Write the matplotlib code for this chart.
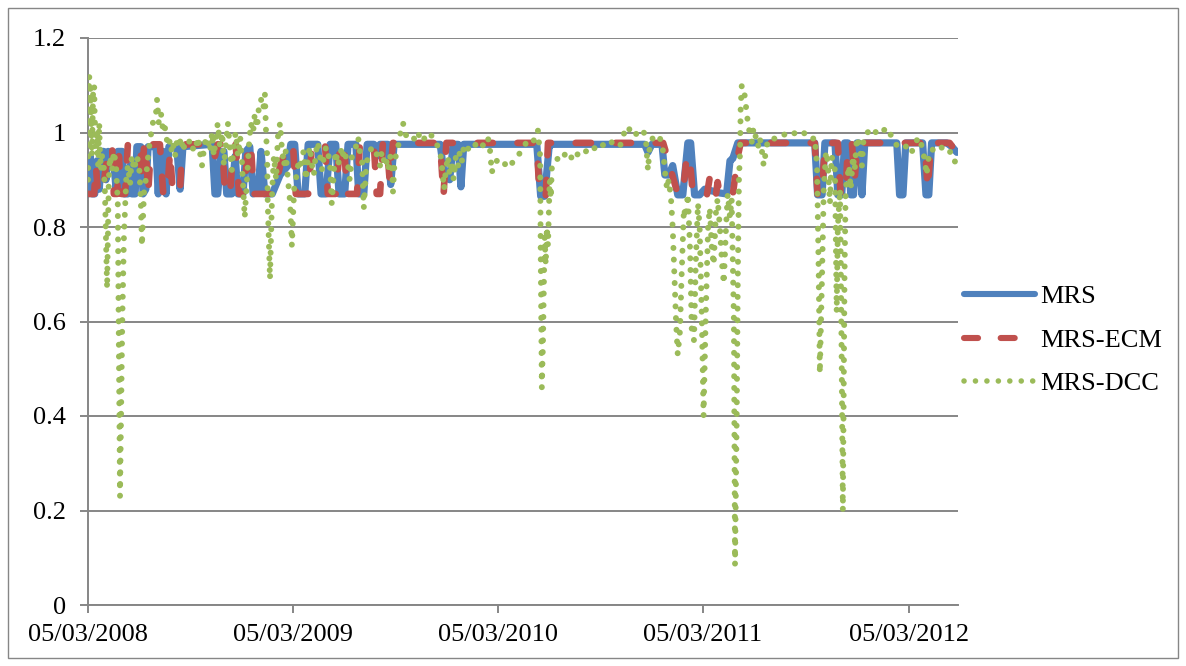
import matplotlib
matplotlib.use("Agg")
import matplotlib.pyplot as plt
import matplotlib.dates as mdates
import pandas as pd
from matplotlib.lines import Line2D
from matplotlib.patches import Rectangle

plt.rcParams['font.family'] = ['Liberation Serif', 'DejaVu Serif']

# ---------------- data ----------------
start_date = "2008-03-05"
end_day = 1549
tick_dates = ["2008-03-05", "2009-03-05", "2010-03-05", "2011-03-05", "2012-03-05"]
y_ticks = [0, 0.2, 0.4, 0.6, 0.8, 1.0, 1.2]
y_labels = ["0", "0.2", "0.4", "0.6", "0.8", "1", "1.2"]
series_names = ["MRS", "MRS-ECM", "MRS-DCC"]

# day offsets from start_date and values
mrs_day = [0, 4, 7, 12, 16, 20, 25, 28, 32, 36, 45, 50, 53, 61, 64, 71, 75, 78, 84, 87,
           94, 98, 103, 107, 121, 125, 128, 134, 139, 144, 158, 164, 169, 221, 226, 231,
           237, 242, 247, 256, 262, 267, 276, 281, 288, 294, 303, 308, 315, 328, 342, 356,
           361, 368, 374, 386, 392, 409, 415, 424, 431, 441, 447, 457, 463, 477, 482, 491,
           497, 509, 514, 520, 534, 539, 545, 627, 635, 644, 650, 659, 664, 669, 799, 806,
           813, 821, 826, 991, 997, 1004, 1022, 1027, 1034, 1041, 1050, 1059, 1068, 1073,
           1080, 1089, 1098, 1116, 1125, 1137, 1143, 1148, 1157, 1294, 1299, 1307, 1312,
           1330, 1335, 1342, 1347, 1353, 1358, 1363, 1369, 1372, 1378, 1383, 1440, 1445,
           1451, 1456, 1486, 1492, 1497, 1502, 1529, 1538, 1547]
mrs_val = [0.87, 0.95, 0.87, 0.87, 0.94, 0.88, 0.96, 0.96, 0.90, 0.96, 0.95, 0.88, 0.96,
           0.96, 0.87, 0.87, 0.93, 0.87, 0.87, 0.97, 0.97, 0.87, 0.88, 0.97, 0.97, 0.87,
           0.95, 0.96, 0.87, 0.97, 0.97, 0.88, 0.97, 0.975, 0.87, 0.87, 0.96, 0.96, 0.87,
           0.87, 0.95, 0.87, 0.87, 0.96, 0.97, 0.87, 0.88, 0.96, 0.87, 0.87, 0.91, 0.93,
           0.975, 0.975, 0.87, 0.87, 0.975, 0.975, 0.87, 0.87, 0.975, 0.975, 0.87, 0.87,
           0.975, 0.975, 0.87, 0.87, 0.975, 0.975, 0.95, 0.975, 0.975, 0.89, 0.975, 0.975,
           0.905, 0.90, 0.975, 0.975, 0.885, 0.975, 0.975, 0.865, 0.865, 0.97, 0.975,
           0.975, 0.958, 0.975, 0.975, 0.91, 0.91, 0.93, 0.868, 0.868, 0.978, 0.978,
           0.868, 0.868, 0.88, 0.875, 0.872, 0.87, 0.94, 0.945, 0.978, 0.978, 0.868,
           0.868, 0.978, 0.978, 0.868, 0.868, 0.978, 0.978, 0.868, 0.868, 0.978, 0.978,
           0.868, 0.978, 0.978, 0.868, 0.868, 0.978, 0.978, 0.868, 0.868, 0.978, 0.978,
           0.97, 0.958]

ecm_day = [0, 11, 14, 18, 27, 32, 37, 43, 46, 52, 55, 59, 66, 71, 93, 96, 100, 103, 107,
           110, 116, 128, 134, 141, 146, 151, 157, 164, 167, 174, 221, 226, 231, 239, 244,
           253, 258, 263, 269, 278, 285, 290, 295, 315, 324, 333, 342, 351, 360, 365, 370,
           392, 399, 422, 427, 441, 449, 456, 461, 479, 484, 509, 514, 520, 525, 532, 537,
           543, 627, 633, 638, 799, 804, 815, 819, 1024, 1031, 1039, 1050, 1059, 1066,
           1071, 1077, 1102, 1107, 1111, 1118, 1121, 1125, 1148, 1157, 1162, 1294, 1299,
           1307, 1312, 1335, 1340, 1349, 1353, 1360, 1365, 1370, 1490, 1495, 1501, 1534,
           1547]
ecm_val = [0.87, 0.87, 0.93, 0.87, 0.88, 0.93, 0.97, 0.97, 0.87, 0.87, 0.95, 0.87, 0.87,
           0.975, 0.975, 0.90, 0.975, 0.975, 0.87, 0.93, 0.975, 0.975, 0.87, 0.87, 0.96,
           0.87, 0.87, 0.88, 0.96, 0.975, 0.975, 0.95, 0.975, 0.975, 0.87, 0.87, 0.96,
           0.975, 0.87, 0.87, 0.975, 0.975, 0.87, 0.87, 0.87, 0.88, 0.93, 0.96, 0.975,
           0.975, 0.87, 0.87, 0.975, 0.975, 0.87, 0.87, 0.975, 0.975, 0.87, 0.87, 0.975,
           0.975, 0.87, 0.87, 0.978, 0.978, 0.90, 0.978, 0.978, 0.865, 0.978, 0.978,
           0.865, 0.865, 0.978, 0.978, 0.95, 0.915, 0.87, 0.87, 0.95, 0.95, 0.868, 0.868,
           0.905, 0.868, 0.868, 0.895, 0.868, 0.868, 0.95, 0.978, 0.978, 0.868, 0.868,
           0.978, 0.978, 0.868, 0.868, 0.978, 0.978, 0.90, 0.978, 0.978, 0.88, 0.978,
           0.978, 0.958]

dcc_day = [0, 2, 4, 5, 7, 9, 11, 12, 14, 16, 18, 20, 21, 23, 25, 28, 30, 34, 37, 39, 43,
           46, 50, 53, 57, 61, 64, 68, 71, 75, 78, 82, 87, 91, 94, 96, 100, 103, 107, 110,
           114, 117, 121, 123, 126, 130, 134, 137, 141, 144, 148, 151, 155, 158, 162, 166,
           169, 173, 178, 182, 185, 190, 196, 199, 203, 206, 210, 214, 217, 221, 224, 228,
           231, 235, 239, 242, 246, 249, 253, 256, 260, 263, 267, 271, 274, 279, 283, 287,
           290, 294, 297, 301, 304, 308, 312, 315, 317, 319, 320, 324, 328, 331, 335, 338,
           342, 345, 349, 352, 356, 360, 363, 367, 370, 374, 377, 381, 384, 388, 392, 395,
           399, 402, 406, 409, 413, 417, 420, 424, 427, 431, 434, 438, 441, 445, 449, 452,
           456, 459, 463, 466, 470, 473, 477, 481, 484, 488, 491, 495, 498, 502, 506, 511,
           516, 520, 523, 527, 530, 534, 538, 541, 543, 546, 550, 554, 557, 561, 564, 568,
           573, 579, 584, 589, 595, 600, 605, 611, 616, 621, 627, 630, 634, 637, 641, 644,
           648, 651, 655, 659, 662, 666, 669, 675, 680, 687, 694, 701, 708, 712, 716, 719,
           723, 728, 733, 739, 744, 749, 755, 760, 765, 771, 776, 781, 787, 792, 797, 801,
           805, 806, 808, 810, 812, 813, 815, 817, 819, 821, 822, 824, 826, 831, 837, 842,
           847, 853, 858, 863, 869, 876, 883, 890, 897, 904, 911, 918, 926, 933, 940, 947,
           952, 958, 961, 967, 972, 977, 983, 988, 993, 997, 1000, 1006, 1011, 1016, 1018,
           1024, 1027, 1031, 1034, 1038, 1041, 1047, 1050, 1054, 1057, 1061, 1064, 1068,
           1072, 1075, 1079, 1082, 1086, 1089, 1093, 1096, 1100, 1104, 1107, 1111, 1114,
           1118, 1121, 1125, 1129, 1132, 1136, 1139, 1143, 1146, 1150, 1152, 1155, 1157,
           1159, 1161, 1162, 1164, 1168, 1171, 1175, 1178, 1182, 1185, 1189, 1193, 1196,
           1200, 1203, 1207, 1210, 1218, 1225, 1232, 1239, 1246, 1253, 1260, 1267, 1274,
           1282, 1289, 1294, 1298, 1301, 1303, 1307, 1310, 1314, 1317, 1321, 1324, 1330,
           1333, 1335, 1339, 1342, 1344, 1347, 1349, 1355, 1358, 1362, 1365, 1369, 1374,
           1378, 1381, 1388, 1396, 1403, 1410, 1417, 1424, 1431, 1438, 1445, 1452, 1460,
           1467, 1474, 1479, 1485, 1490, 1493, 1497, 1502, 1509, 1517, 1524, 1531, 1536,
           1541, 1547]
dcc_val = [0.90, 1.12, 1.10, 1.05, 0.95, 1.08, 1.10, 1.03, 0.97, 1.00, 0.93, 1.02, 0.97,
           0.92, 0.95, 0.93, 0.88, 0.67, 0.90, 0.95, 0.92, 0.96, 0.93, 0.85, 0.23, 0.60,
           0.78, 0.90, 0.93, 0.89, 0.95, 0.92, 0.95, 0.93, 0.86, 0.76, 0.88, 0.90, 0.95,
           0.98, 1.01, 1.03, 1.04, 1.07, 1.02, 1.04, 1.00, 1.01, 0.98, 0.99, 0.96, 0.98,
           0.95, 0.98, 0.97, 0.99, 0.96, 0.98, 0.975, 0.985, 0.97, 0.96, 0.99, 0.96, 0.93,
           0.96, 0.99, 0.98, 0.96, 1.00, 0.95, 0.99, 1.02, 0.97, 1.00, 0.93, 0.98, 1.02,
           0.96, 0.92, 0.98, 1.00, 0.95, 0.99, 0.94, 0.82, 0.90, 0.98, 1.02, 1.00, 1.04,
           1.01, 1.05, 1.07, 1.05, 1.08, 1.00, 0.95, 0.85, 0.69, 0.88, 0.95, 0.90, 0.99,
           1.02, 0.97, 0.93, 0.96, 0.90, 0.85, 0.76, 0.88, 0.90, 0.93, 0.92, 0.95, 0.96,
           0.90, 0.95, 0.97, 0.93, 0.91, 0.96, 0.98, 0.95, 0.92, 0.95, 0.97, 0.96, 0.93,
           0.85, 0.92, 0.96, 0.93, 0.95, 0.97, 0.94, 0.95, 0.93, 0.90, 0.95, 0.96, 0.97,
           0.99, 0.96, 0.94, 0.84, 0.92, 0.95, 0.96, 0.97, 0.96, 0.95, 0.93, 0.96, 0.94,
           0.95, 0.92, 0.95, 0.93, 0.875, 0.94, 0.96, 0.98, 1.005, 1.02, 1.00, 0.99, 0.985,
           0.99, 0.98, 0.995, 0.98, 0.99, 0.985, 0.995, 0.98, 0.975, 0.96, 0.93, 0.88,
           0.92, 0.95, 0.91, 0.94, 0.90, 0.95, 0.93, 0.96, 0.94, 0.97, 0.96, 0.975, 0.97,
           0.98, 0.97, 0.98, 0.99, 0.96, 0.915, 0.935, 0.94, 0.935, 0.94, 0.93, 0.94,
           0.935, 0.945, 0.95, 0.96, 0.97, 0.98, 0.985, 0.98, 0.99, 1.005, 0.95, 0.75,
           0.46, 0.55, 0.70, 0.78, 0.72, 0.80, 0.76, 0.85, 0.90, 0.86, 0.93, 0.94, 0.945,
           0.955, 0.95, 0.96, 0.955, 0.94, 0.95, 0.96, 0.955, 0.965, 0.96, 0.97, 0.965,
           0.975, 0.97, 0.98, 0.975, 0.97, 0.99, 1.01, 1.013, 1.00, 1.005, 0.995, 1.00,
           1.005, 0.99, 0.92, 0.97, 0.99, 0.995, 0.99, 0.99, 0.96, 0.92, 0.88, 0.90, 0.86,
           0.80, 0.60, 0.53, 0.58, 0.70, 0.84, 0.82, 0.87, 0.75, 0.58, 0.56, 0.72, 0.85,
           0.80, 0.60, 0.40, 0.62, 0.80, 0.84, 0.75, 0.72, 0.83, 0.86, 0.80, 0.72, 0.68,
           0.80, 0.87, 0.82, 0.86, 0.60, 0.085, 0.40, 0.70, 0.90, 0.96, 1.05, 1.10, 1.09,
           1.06, 1.02, 1.00, 0.98, 1.01, 0.99, 0.97, 0.99, 0.96, 0.93, 0.96, 0.98, 0.99,
           0.985, 0.99, 0.995, 1.00, 0.995, 1.00, 0.995, 1.00, 0.99, 0.985, 0.99, 0.93,
           0.70, 0.49, 0.70, 0.88, 0.96, 0.94, 0.85, 0.95, 0.92, 0.62, 0.80, 0.88, 0.50,
           0.20, 0.70, 0.88, 0.93, 0.88, 0.95, 0.92, 0.99, 0.97, 0.93, 0.99, 1.00, 1.01,
           1.00, 1.01, 1.005, 1.01, 0.99, 0.975, 0.97, 0.965, 0.975, 0.96, 0.98, 0.99,
           0.97, 0.94, 0.91, 0.95, 0.965, 0.96, 0.97, 0.965, 0.955, 0.96, 0.945, 0.93]

# ---------------- drawing ----------------
t0 = pd.Timestamp(start_date)
def to_dates(days):
    return t0 + pd.to_timedelta(days, unit="D")

fig = plt.figure(figsize=(11.86, 6.66), dpi=100)
fig.patch.set_facecolor("white")
fig.patches.append(Rectangle((8/1186, 8/666), 1 - 16/1186, 1 - 16/666,
                             transform=fig.transFigure, fill=False,
                             edgecolor="#868686", linewidth=1.0))

ax = fig.add_axes([88/1186, 61/666, 870/1186, 567/666])

grid_color = "#868686"
blue, red, green = "#4F81BD", "#C0504D", "#9BBB59"
red_dash = (0, (2.3, 3.7))
green_dot = (0, (0.01, 1.95))

ax.plot(to_dates(mrs_day), mrs_val, color=blue, lw=5.2, solid_joinstyle="round",
        solid_capstyle="round", zorder=3)
ax.plot(to_dates(ecm_day), ecm_val, color=red, lw=4.8, linestyle=red_dash,
        dash_capstyle="round", dash_joinstyle="round", zorder=4)
ax.plot(to_dates(dcc_day), dcc_val, color=green, lw=4.3, linestyle=green_dot,
        dash_capstyle="round", zorder=5)

ax.set_ylim(0, 1.2)
ax.set_xlim(t0, t0 + pd.Timedelta(days=end_day))
ax.set_yticks(y_ticks)
ax.set_yticklabels(y_labels)
ax.set_xticks([pd.Timestamp(d) for d in tick_dates])
ax.xaxis.set_major_formatter(mdates.DateFormatter("%d/%m/%Y"))

ax.grid(axis="y", color=grid_color, lw=1.4)
ax.set_axisbelow(True)
for s in ["top", "right"]:
    ax.spines[s].set_visible(False)
for s in ["left", "bottom"]:
    ax.spines[s].set_color(grid_color)
    ax.spines[s].set_linewidth(1.4)
ax.tick_params(axis="both", colors=grid_color, length=6, width=1.4,
               labelcolor="black", labelsize=19, direction="out")
ax.tick_params(axis="x", pad=8)
ax.tick_params(axis="y", pad=10)

handles = [Line2D([], [], color=blue, lw=4.4, solid_capstyle="round"),
           Line2D([], [], color=red, lw=4.4, linestyle=red_dash, dash_capstyle="round"),
           Line2D([], [], color=green, lw=4.0, linestyle=(0, (0.01, 2.05)), dash_capstyle="round")]
fig.legend(handles, series_names, loc="center left", bbox_to_anchor=(964/1186, 1 - 340/666),
           frameon=False, fontsize=19, handlelength=2.7, handletextpad=0.2,
           labelspacing=0.76, borderpad=0, borderaxespad=0)

fig.savefig("out.png", dpi=100, facecolor="white")
